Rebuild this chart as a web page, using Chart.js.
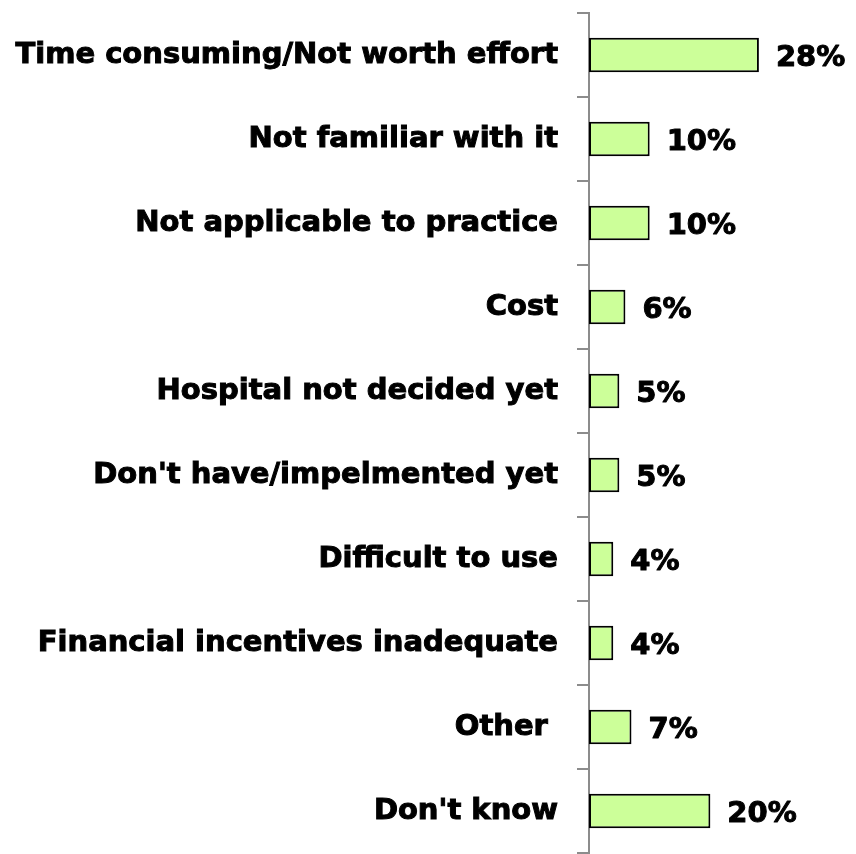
<!DOCTYPE html>
<html>
<head>
<meta charset="utf-8">
<script src="https://cdn.jsdelivr.net/npm/chart.js@4.4.1/dist/chart.umd.min.js"></script>
<style>
  body { margin: 0; background: #fff; }
  #wrap { width: 856px; height: 854px; }
</style>
</head>
<body>
<div id="wrap"><canvas id="barchart" width="856" height="854"></canvas></div>
<script>
const categories = [
  'Time consuming/Not worth effort',
  'Not familiar with it',
  'Not applicable to practice',
  'Cost',
  'Hospital not decided yet',
  "Don't have/impelmented yet",
  'Difficult to use',
  'Financial incentives inadequate',
  'Other ',
  "Don't know"
];
const percents = [28, 10, 10, 6, 5, 5, 4, 4, 7, 20];

const labelFont = { family: "Verdana, 'DejaVu Sans', sans-serif", size: 29, weight: 'bold' };

// draws the "28%" style labels right of each bar
const valueLabels = {
  id: 'valueLabels',
  afterDatasetsDraw(chart) {
    const c = chart.ctx;
    const meta = chart.getDatasetMeta(0);
    c.save();
    c.font = 'bold ' + labelFont.size + 'px ' + labelFont.family;
    c.fillStyle = '#000';
    c.strokeStyle = '#000';
    c.lineWidth = 1;
    c.lineJoin = 'round';
    c.textAlign = 'left';
    c.textBaseline = 'middle';
    meta.data.forEach((bar, i) => {
      const txt = percents[i] + '%';
      c.strokeText(txt, bar.x + 17, bar.y + 3);
      c.fillText(txt, bar.x + 17, bar.y + 3);
    });
    c.restore();
  }
};

const ctx = document.getElementById('barchart');

new Chart(ctx, {
  type: 'bar',
  data: {
    labels: categories,
    datasets: [{
      data: percents,
      backgroundColor: '#ccff99',
      borderColor: '#000',
      borderWidth: 2,
      borderSkipped: false,
      barPercentage: 0.41,
      categoryPercentage: 1
    }]
  },
  options: {
    indexAxis: 'y',
    responsive: false,
    animation: false,
    layout: { padding: { top: 13, bottom: 1, left: 0, right: 0 } },
    plugins: {
      legend: { display: false },
      tooltip: { enabled: false }
    },
    scales: {
      x: {
        display: false,
        min: 0,
        max: 44
      },
      y: {
        afterFit(scale) {
          scale.width = 589;
          scale.paddingTop = 0;
          scale.paddingBottom = 0;
        },
        grid: {
          drawOnChartArea: false,
          drawTicks: true,
          tickLength: 12,
          color: '#8c8c8c',
          lineWidth: 2,
          offset: true
        },
        border: { display: true, color: '#8c8c8c', width: 2 },
        ticks: {
          color: '#000',
          padding: 19,
          font: labelFont,
          textStrokeColor: '#000',
          textStrokeWidth: 1
        }
      }
    }
  },
  plugins: [valueLabels]
});
</script>
</body>
</html>
